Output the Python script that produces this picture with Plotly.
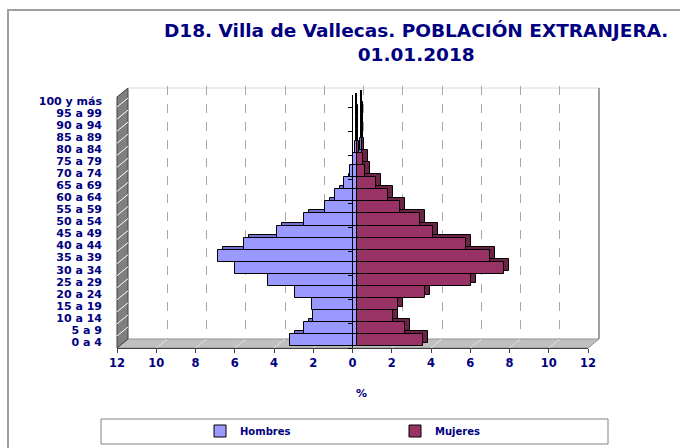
import plotly.graph_objects as go

categories = ["0 a 4", "5 a 9", "10 a 14", "15 a 19", "20 a 24", "25 a 29", "30 a 34",
              "35 a 39", "40 a 44", "45 a 49", "50 a 54", "55 a 59", "60 a 64", "65 a 69",
              "70 a 74", "75 a 79", "80 a 84", "85 a 89", "90 a 94", "95 a 99", "100 y más"]
hombres = [3.37, 2.65, 2.21, 2.28, 3.13, 4.49, 6.21, 7.04, 5.73, 4.05, 2.65, 1.62, 1.11, 0.63,
           0.32, 0.2, 0.1, 0.05, 0.03, 0.02, 0.01]
mujeres = [3.38, 2.46, 1.87, 2.11, 3.50, 5.85, 7.52, 6.80, 5.60, 3.91, 3.21, 2.21, 1.60, 0.98,
           0.41, 0.34, 0.14, 0.10, 0.08, 0.07, 0.05]
xticks = list(range(-12, 13, 2))
xticktext = [str(abs(v)) for v in xticks]
title_text = "D18. Villa de Vallecas. POBLACIÓN EXTRANJERA.<br>01.01.2018"

NAVY = "#000080"
L, R, B, T = 117, 599, 348, 86
W, H = R - L, B - T


def fx(px):
    return (px - L) / W


def fy(py):
    return (B - py) / H


font_b = dict(family="DejaVu Sans", weight="bold", color=NAVY)
n = len(categories)
yr = [-0.5, n - 0.5]

fig = go.Figure()

# invisible trace for back wall grid subplot
fig.add_trace(go.Scatter(x=[-12, 12], y=[0, 1], mode="markers", marker=dict(opacity=0),
                         hoverinfo="skip", showlegend=False, xaxis="x", yaxis="y"))
# back copies (depth faces)
fig.add_trace(go.Bar(y=categories, x=[-v for v in hombres], orientation="h",
                     marker=dict(color="#7474D0", line=dict(color="#000000", width=1)),
                     showlegend=False, hoverinfo="skip", xaxis="x2", yaxis="y2"))
fig.add_trace(go.Bar(y=categories, x=mujeres, orientation="h",
                     marker=dict(color="#6B2346", line=dict(color="#000000", width=1)),
                     showlegend=False, hoverinfo="skip", xaxis="x2", yaxis="y2"))
# front faces
fig.add_trace(go.Bar(y=categories, x=[-v for v in hombres], orientation="h", name="Hombres",
                     marker=dict(color="#9999FF", line=dict(color="#000000", width=1)),
                     customdata=hombres, hovertemplate="%{y}: %{customdata}%<extra>Hombres</extra>",
                     xaxis="x3", yaxis="y3"))
fig.add_trace(go.Bar(y=categories, x=mujeres, orientation="h", name="Mujeres",
                     marker=dict(color="#993366", line=dict(color="#000000", width=1)),
                     hovertemplate="%{y}: %{x}%<extra>Mujeres</extra>",
                     xaxis="x3", yaxis="y3"))
# front axes (labels)
fig.add_trace(go.Scatter(x=[0] * n, y=categories, mode="markers", marker=dict(opacity=0),
                         hoverinfo="skip", showlegend=False, xaxis="x4", yaxis="y4"))
fig.add_trace(go.Scatter(x=[0] * n, y=categories, mode="markers", marker=dict(opacity=0),
                         hoverinfo="skip", showlegend=False, xaxis="x4", yaxis="y5"))

hidden = dict(showgrid=False, zeroline=False, showticklabels=False, ticks="", showline=False)

shapes = []
# outer border
shapes.append(dict(type="rect", xref="paper", yref="paper", x0=fx(8), y0=fy(10), x1=fx(720), y1=fy(480),
                   line=dict(color="#A0A0A0", width=2), layer="below"))
# legend box
shapes.append(dict(type="rect", xref="paper", yref="paper", x0=fx(101), y0=fy(419), x1=fx(608), y1=fy(444),
                   line=dict(color="#808080", width=1), fillcolor="white", layer="below"))
# floor
shapes.append(dict(type="path", xref="paper", yref="paper",
                   path=f"M {fx(117)},{fy(348)} L {fx(588)},{fy(348)} L {fx(599)},{fy(339)} L {fx(128)},{fy(339)} Z",
                   fillcolor="#C0C0C0", line=dict(color="#909090", width=1), layer="below"))
for v in xticks[1:-1]:
    px = 117 + (v + 12) / 24 * 471
    shapes.append(dict(type="line", xref="paper", yref="paper", x0=fx(px), y0=fy(348), x1=fx(px + 11), y1=fy(339),
                       line=dict(color="#E0E0E0", width=1), layer="below"))
# left wall
shapes.append(dict(type="path", xref="paper", yref="paper",
                   path=f"M {fx(117)},{fy(348)} L {fx(117)},{fy(97)} L {fx(128)},{fy(88)} L {fx(128)},{fy(339)} Z",
                   fillcolor="#808080", line=dict(color="#404040", width=1), layer="below"))
for k in range(1, n):
    py = 348 - k * (253 / n)
    shapes.append(dict(type="line", xref="paper", yref="paper", x0=fx(117), y0=fy(py), x1=fx(128), y1=fy(py - 9),
                       line=dict(color="#FFFFFF", width=1), layer="below"))
# back wall top and right edge
shapes.append(dict(type="line", xref="paper", yref="paper", x0=fx(128), y0=fy(88), x1=fx(599), y1=fy(88),
                   line=dict(color="#D8D8D8", width=1), layer="below"))
shapes.append(dict(type="line", xref="paper", yref="paper", x0=fx(599), y0=fy(88), x1=fx(599), y1=fy(339),
                   line=dict(color="#808080", width=1.5), layer="below"))

fig.update_layout(
    width=680, height=448,
    margin=dict(l=L, r=680 - R, t=T, b=448 - B, autoexpand=False),
    paper_bgcolor="white", plot_bgcolor="rgba(0,0,0,0)",
    barmode="overlay", bargap=0,
    showlegend=True,
    legend=dict(orientation="h", x=fx(200), y=fy(431), xanchor="left", yanchor="middle",
                bgcolor="rgba(0,0,0,0)", font=dict(size=10, **font_b),
                entrywidth=150, entrywidthmode="pixels", itemwidth=30, traceorder="normal"),
    xaxis=dict(domain=[11 / W, 1], range=[-12, 12], tickvals=list(range(-10, 11, 2)),
               showgrid=True, gridcolor="#A8A8A8", griddash="dash", gridwidth=1,
               zeroline=False, showticklabels=False, ticks="", showline=False, anchor="y"),
    yaxis=dict(domain=[9 / H, 1], range=[0, 1], anchor="x", **hidden),
    xaxis2=dict(domain=[9 / W, 480 / W], range=[-12, 12], anchor="y2", **hidden),
    yaxis2=dict(domain=[5 / H, 258 / H], range=yr, type="category", categoryorder="array",
                categoryarray=categories, anchor="x2", **hidden),
    xaxis3=dict(domain=[4 / W, 475 / W], range=[-12, 12], anchor="y3", **hidden),
    yaxis3=dict(domain=[2 / H, 255 / H], range=yr, type="category", categoryorder="array",
                categoryarray=categories, anchor="x3", **hidden),
    xaxis4=dict(domain=[0, 471 / W], range=[-12, 12], anchor="y4", tickmode="array",
                tickvals=xticks, ticktext=xticktext, ticks="outside", ticklen=4, tickcolor="#404040",
                showline=True, linecolor="#404040", linewidth=1, showgrid=False, zeroline=False,
                tickfont=dict(size=11.5, **font_b)),
    yaxis4=dict(domain=[0, 253 / H], range=yr, type="category", categoryorder="array",
                categoryarray=categories, anchor="x4", tickmode="array", tickvals=categories,
                ticktext=categories, ticks="", showgrid=False, zeroline=False,
                showline=False, ticklabelstandoff=14, tickfont=dict(size=11, **font_b)),
    yaxis5=dict(overlaying="y4", anchor="free", position=235 / W, side="left", range=yr,
                type="category", categoryorder="array", categoryarray=categories,
                showline=True, linecolor="#000000", linewidth=1, ticks="outside", ticklen=4,
                tickcolor="#000000", tickson="boundaries", showticklabels=False,
                showgrid=False, zeroline=False),
    shapes=shapes,
    annotations=[
        dict(text=title_text, xref="paper", yref="paper", x=fx(416), y=fy(43), xanchor="center",
             yanchor="middle", showarrow=False, font=dict(size=18.5, **font_b)),
        dict(text="%", xref="paper", yref="paper", x=fx(361), y=fy(393), xanchor="center",
             yanchor="middle", showarrow=False, font=dict(size=11, **font_b)),
    ],
)

fig.write_html("out.html", config={"displayModeBar": False},
               post_script="document.body.style.margin='0px';")
